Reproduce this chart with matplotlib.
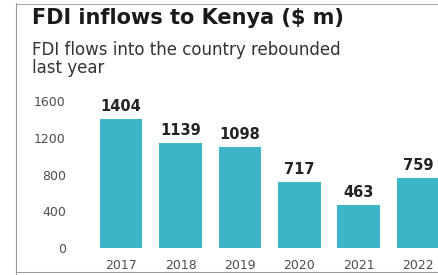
import matplotlib.pyplot as plt
from matplotlib.lines import Line2D

years = ['2017', '2018', '2019', '2020', '2021', '2022']
fdi = [1404, 1139, 1098, 717, 463, 759]
yticks = [0, 400, 800, 1200, 1600]

BAR = '#3cb6c6'
TXT = '#222222'
GREY = '#4d4d4d'

fig = plt.figure(figsize=(4.39, 2.75), dpi=100)
fig.patch.set_facecolor('white')

# axes placed so bars/ticks line up with the scanned page
ax = fig.add_axes([70 / 439, (275 - 248) / 275, 369 / 439, 147 / 275])
x = range(len(years))
bars = ax.bar(x, fdi, width=0.72, color=BAR)
ax.set_xlim(-0.86, 5.35)
ax.set_ylim(0, 1600)

for b, v in zip(bars, fdi):
    ax.text(b.get_x() + b.get_width() / 2, v + 140, str(v),
            ha='center', va='center', fontsize=10.5, fontweight='bold',
            color=TXT, clip_on=False)

ax.set_yticks(yticks)
ax.set_yticklabels([str(t) for t in yticks], fontsize=9, color=GREY)
ax.set_xticks(list(x))
ax.set_xticklabels(years, fontsize=9, color=GREY)
ax.tick_params(axis='x', length=0, pad=8)
ax.tick_params(axis='y', length=0, pad=3)
for s in ax.spines.values():
    s.set_visible(False)

fig.text(32 / 439, 1 - 18 / 275, 'FDI inflows to Kenya ($ m)',
         fontsize=15, fontweight='bold', color='#1a1a1a',
         ha='left', va='center')
fig.text(32 / 439, 1 - 59 / 275,
         'FDI flows into the country rebounded\nlast year',
         fontsize=12, color='#333333', ha='left', va='center',
         linespacing=1.0)

# page frame lines from the scan
fig.add_artist(Line2D([16 / 439, 16 / 439], [0, 1 - 3 / 275],
                      color='#999999', lw=0.8))
fig.add_artist(Line2D([16 / 439, 1], [1 - 4 / 275, 1 - 4 / 275],
                      color='#aaaaaa', lw=0.8))
fig.add_artist(Line2D([16 / 439, 1], [1 - 272 / 275, 1 - 272 / 275],
                      color='#999999', lw=0.8))

fig.savefig('out.png', dpi=100)
